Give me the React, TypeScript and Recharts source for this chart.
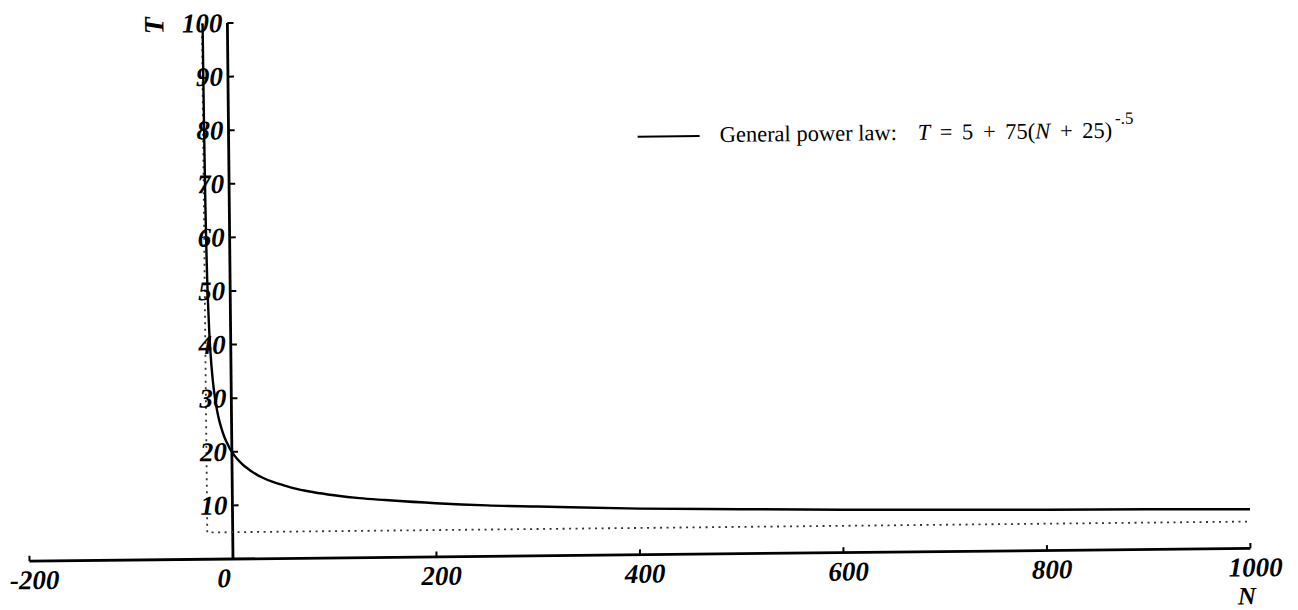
import { Legend, Line, LineChart, ReferenceDot, ReferenceLine, XAxis, YAxis } from "recharts";

// general power law curve
const lawN = [
  -24.38, -24.2, -24, -23.5, -23, -22.5, -22, -21, -20, -18, -16, -14, -12, -10, -8, -6, -4, -2, 0, 5,
  10, 15, 20, 30, 40, 50, 60, 80, 100, 125, 150, 200, 250, 300, 400, 500, 600, 700, 800, 900, 1000,
];
const lawT = [
  100, 88.9, 80, 66.2, 58, 52.4, 48.3, 42.5, 38.5, 33.3, 30, 27.6, 25.8, 24.4, 23.2, 22.2, 21.4, 20.6, 20, 18.7,
  17.7, 16.9, 16.2, 15.1, 14.3, 13.7, 13.1, 12.3, 11.7, 11.1, 10.7, 10, 9.5, 9.2, 8.6, 8.3, 8, 7.8, 7.6, 7.5, 7.3,
];

// dotted asymptotes (N = -25, T = 5)
const asymN = [-25, -25, 1000];
const asymT = [100, 5, 5];

const xTicks = [-200, 0, 200, 400, 600, 800, 1000];
const yTicks = [10, 20, 30, 40, 50, 60, 70, 80, 90, 100];

const lawData = lawN.map((n, i) => ({ N: n, T: lawT[i] }));
const asymData = asymN.map((n, i) => ({ N: n, T: asymT[i] }));

const serif = "'Liberation Serif', 'Times New Roman', serif";
const tickFont = { fontFamily: serif, fontSize: 27, fontWeight: 700, fontStyle: "italic", fill: "#000" } as const;

function XTick({ x, y, payload }: any) {
  const dx = payload.value === 0 ? -9 : 5;
  return (
    <text x={x + dx} y={y + 28} textAnchor="middle" style={tickFont}>
      {payload.value}
    </text>
  );
}

const yTickLabel = (v: number) => (props: any) => {
  const vb = props.viewBox ?? {};
  return (
    <text x={vb.x - 5} y={vb.y + 9} textAnchor="end" style={tickFont}>
      {v}
    </text>
  );
};

const nLabel = (props: any) => {
  const vb = props.viewBox ?? {};
  return (
    <text x={vb.x + vb.width - 4} y={vb.y + 56} textAnchor="middle" style={{ ...tickFont, fontSize: 25 }}>
      N
    </text>
  );
};

function LegendBox() {
  return (
    <svg width={560} height={45} style={{ display: "block", overflow: "visible" }}>
      <line x1={2} y1={31} x2={64} y2={31} stroke="#000" strokeWidth={2} />
      <text y={37} style={{ fontFamily: serif, fontSize: 22.5, fill: "#000", whiteSpace: "pre", wordSpacing: 4 }}>
        <tspan x={84} style={{ wordSpacing: 0 }}>General power law:</tspan>
        <tspan x={282} fontStyle="italic">T</tspan>
        <tspan>{" = 5 + 75("}</tspan>
        <tspan fontStyle="italic">N</tspan>
        <tspan>{" + 25)"}</tspan>
        <tspan dx={3} dy={-14} fontSize={17}>-.5</tspan>
      </text>
    </svg>
  );
}

export default function App() {
  return (
    <div style={{ position: "fixed", left: 0, top: 0, width: 1298, height: 610, overflow: "hidden", background: "#fff" }}>
      <div style={{ position: "absolute", left: 0, top: 0, transform: "rotate(-0.6deg)", transformOrigin: "233px 559px" }}>
        <LineChart width={1298} height={640} margin={{ top: 23, right: 47.5, bottom: 21, left: 29.5 }}>
          <XAxis
            type="number"
            dataKey="N"
            domain={[-200, 1000]}
            ticks={xTicks}
            interval={0}
            allowDataOverflow
            height={60}
            tickSize={0}
            tickMargin={0}
            tickLine={false}
            axisLine={{ stroke: "#000", strokeWidth: 2.8 }}
            tick={<XTick />}
            label={nLabel}
          />
          <YAxis type="number" dataKey="T" domain={[0, 100]} allowDataOverflow hide />
          <ReferenceLine x={0} stroke="#000" strokeWidth={2.8} />
          {yTicks.map((v) => (
            <ReferenceLine key={`yt${v}`} segment={[{ x: 0, y: v }, { x: 6, y: v }]} stroke="#000" strokeWidth={2} />
          ))}
          {xTicks.map((v) => (
            <ReferenceLine key={`xt${v}`} segment={[{ x: v, y: 0 }, { x: v, y: 1 }]} stroke="#000" strokeWidth={2} />
          ))}
          {yTicks.map((v) => (
            <ReferenceDot key={`yl${v}`} x={0} y={v} r={0} fill="none" stroke="none" label={yTickLabel(v)} />
          ))}
          <Line
            data={asymData}
            dataKey="T"
            type="linear"
            stroke="#333"
            strokeWidth={1.8}
            strokeDasharray="2 4.5"
            dot={false}
            legendType="none"
            isAnimationActive={false}
          />
          <Line
            data={lawData}
            dataKey="T"
            type="monotone"
            stroke="#000"
            strokeWidth={2.4}
            dot={false}
            isAnimationActive={false}
          />
          <Legend
            layout="horizontal"
            verticalAlign="middle"
            align="center"
            wrapperStyle={{ left: 640, top: 110, width: 560, height: 45 }}
            content={<LegendBox />}
          />
        </LineChart>
        <div
          style={{
            position: "absolute",
            left: 160,
            top: 25,
            transform: "translate(-50%, -50%) rotate(-90deg)",
            fontFamily: serif,
            fontSize: 28,
            fontWeight: 700,
            fontStyle: "italic",
            lineHeight: 1,
          }}
        >
          T
        </div>
      </div>
    </div>
  );
}
